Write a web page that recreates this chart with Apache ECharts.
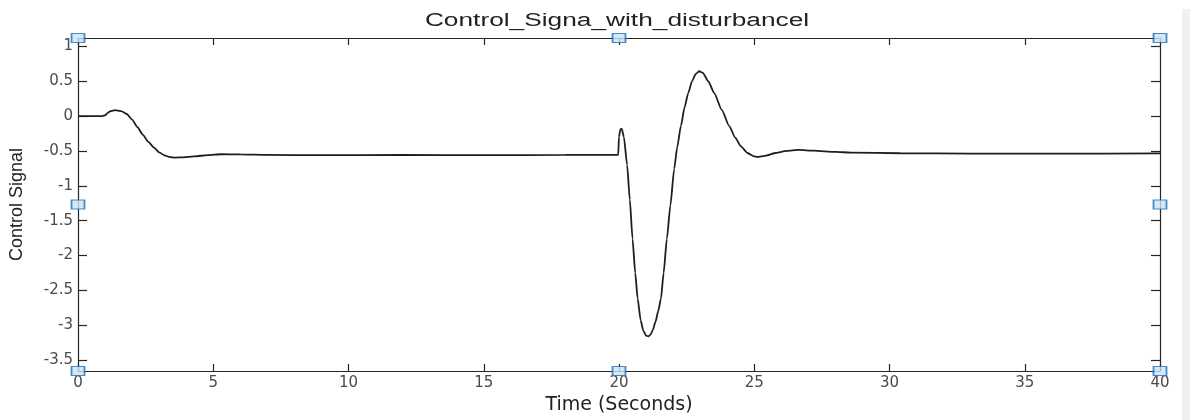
<!DOCTYPE html>
<html>
<head>
<meta charset="utf-8">
<script src="https://cdn.jsdelivr.net/npm/echarts@6/dist/echarts.min.js"></script>
<style>
html,body{margin:0;padding:0;background:#fff;}
#chart{width:1190px;height:420px;}
</style>
</head>
<body>
<div id="chart"></div>
<script>
// ---- data ----
const timeSec = [0, 0.9, 1.0, 1.1, 1.2, 1.38, 1.6, 1.8, 2.0, 2.2, 2.4, 2.6, 2.8, 3.0, 3.2, 3.4, 3.6, 3.9, 4.3, 4.8, 5.3, 6.0, 7.0, 9, 12, 15, 18, 19.97,
  20.0, 20.05, 20.1, 20.18, 20.3, 20.4, 20.5, 20.6, 20.69, 20.8, 20.9, 21.0, 21.08, 21.16, 21.25, 21.35, 21.45, 21.55, 21.65, 21.77, 21.9, 22.04, 22.15, 22.29, 22.42, 22.56, 22.7, 22.83, 22.96,
  23.1, 23.3, 23.52, 23.8, 24.07, 24.3, 24.5, 24.75, 25.0, 25.12, 25.4, 25.8, 26.2, 26.65, 27.2, 28.0, 28.56, 30.4, 33, 36, 40];
const controlSignal = [0, 0, 0.01, 0.045, 0.07, 0.086, 0.07, 0.03, -0.05, -0.16, -0.27, -0.37, -0.45, -0.52, -0.565, -0.588, -0.595, -0.592, -0.578, -0.56, -0.548, -0.55, -0.558, -0.56, -0.558, -0.56, -0.558, -0.556,
  -0.3, -0.19, -0.18, -0.3, -0.7, -1.2, -1.76, -2.25, -2.62, -2.93, -3.08, -3.15, -3.16, -3.14, -3.07, -2.95, -2.8, -2.62, -2.25, -1.76, -1.28, -0.76, -0.45, -0.14, 0.12, 0.33, 0.5, 0.6, 0.643,
  0.62, 0.5, 0.33, 0.09, -0.14, -0.31, -0.43, -0.53, -0.578, -0.586, -0.57, -0.53, -0.5, -0.486, -0.497, -0.515, -0.523, -0.533, -0.54, -0.54, -0.535];
const xTicks = [0, 5, 10, 15, 20, 25, 30, 35, 40];
const yTicks = [-3.5, -3, -2.5, -2, -1.5, -1, -0.5, 0, 0.5, 1];
const xRange = [0, 40];
const yRange = [-3.657, 1.12];

const titleText = 'Control_Signa_with_disturbancel';
const xName = 'Time (Seconds)';
const yName = 'Control Signal';

// ---- build ----
const lineData = timeSec.map((t, i) => [t, controlSignal[i]]);
const xMid = (xRange[0] + xRange[1]) / 2;
const yMid = (yRange[0] + yRange[1]) / 2;
const handleData = [
  [xRange[0], yRange[1]], [xMid, yRange[1]], [xRange[1], yRange[1]],
  [xRange[0], yMid], [xRange[1], yMid],
  [xRange[0], yRange[0]], [xMid, yRange[0]], [xRange[1], yRange[0]]
];

const axisColor = '#262626';
const labelColor = '#4a4a4a';
const wideFont = 'DejaVu Sans, Verdana, sans-serif';
const baseFont = 'Liberation Sans, Arial, Helvetica, sans-serif';

const chart = echarts.init(document.getElementById('chart'), null, {renderer: 'canvas'});
const baseX = {
  type: 'value', min: xRange[0], max: xRange[1], interval: 5,
  axisLine: {show: true, onZero: false, lineStyle: {color: axisColor, width: 1.2}},
  axisTick: {show: true, inside: true, length: 7, lineStyle: {color: axisColor, width: 1.2}},
  splitLine: {show: false}
};
const baseY = {
  type: 'value', min: yRange[0], max: yRange[1],
  axisLine: {show: true, onZero: false, lineStyle: {color: axisColor, width: 1.2}},
  axisTick: {show: true, inside: true, length: 9, customValues: yTicks, lineStyle: {color: axisColor, width: 1.2}},
  splitLine: {show: false}
};
chart.setOption({
  backgroundColor: '#ffffff',
  animation: false,
  grid: {left: 75, right: 30, top: 38, bottom: 47, containLabel: false},
  xAxis: [
    Object.assign({}, baseX, {
      position: 'bottom',
      name: xName, nameLocation: 'middle', nameGap: 25,
      nameTextStyle: {fontFamily: wideFont, fontSize: 19, color: '#222', verticalAlign: 'top'},
      axisLabel: {show: true, margin: 5, color: labelColor, fontFamily: wideFont, fontSize: 15}
    }),
    Object.assign({}, baseX, {position: 'top', axisLabel: {show: false}})
  ],
  yAxis: [
    Object.assign({}, baseY, {
      position: 'left',
      name: yName, nameLocation: 'middle', nameGap: 52, nameRotate: 90,
      nameTextStyle: {fontFamily: baseFont, fontSize: 18, color: '#222'},
      axisLabel: {show: true, margin: 5, customValues: yTicks, color: labelColor, fontFamily: wideFont, fontSize: 15}
    }),
    Object.assign({}, baseY, {position: 'right', axisLabel: {show: false}})
  ],
  graphic: [
    {
      type: 'rect', right: 0, top: 9, shape: {width: 8, height: 411},
      style: {fill: '#f0f0f0'}, silent: true, z: -1
    },
    {
      type: 'text', x: 617, y: 21, scaleX: 1.46, silent: true, z: 5,
      style: {text: titleText, font: '18px ' + baseFont, fill: '#222', align: 'center', verticalAlign: 'middle'}
    }
  ],
  series: [
    {
      type: 'line', data: lineData, showSymbol: false, symbol: 'none',
      smooth: 0.2, smoothMonotone: 'x',
      lineStyle: {color: '#1e1e1e', width: 1.8}, z: 3
    },
    {
      type: 'scatter', data: handleData, symbol: 'rect', symbolSize: [13, 9],
      itemStyle: {color: '#c8e2f7', borderColor: '#1f6fb2', borderWidth: 1.5},
      clip: false, silent: true, z: 10
    }
  ]
});
</script>
</body>
</html>
